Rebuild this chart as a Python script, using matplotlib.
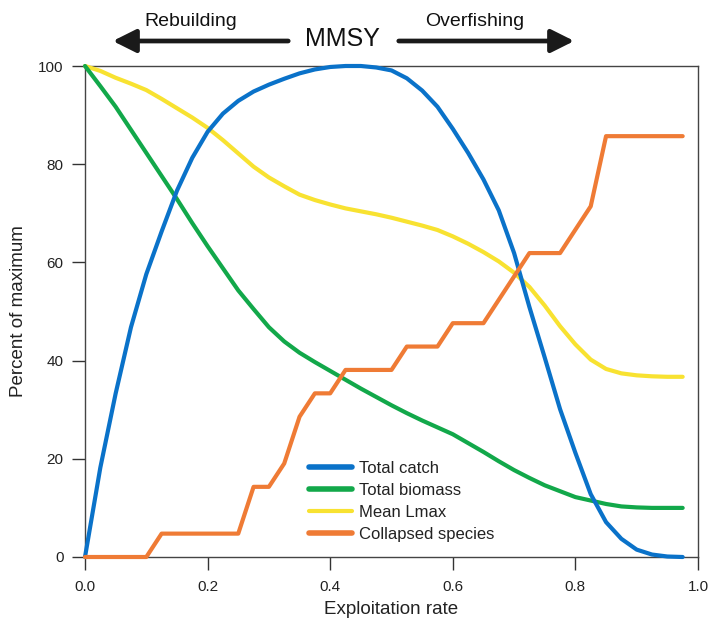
import matplotlib
matplotlib.use("Agg")
import matplotlib.pyplot as plt
from matplotlib.patches import FancyArrowPatch

plt.rcParams['font.family'] = ['Liberation Sans', 'DejaVu Sans']

exploitation = [0.0, 0.025, 0.05, 0.075, 0.1, 0.125, 0.15, 0.175, 0.2, 0.225,
                0.25, 0.275, 0.3, 0.325, 0.35, 0.375, 0.4, 0.425, 0.45, 0.475,
                0.5, 0.525, 0.55, 0.575, 0.6, 0.625, 0.65, 0.675, 0.7, 0.725,
                0.75, 0.775, 0.8, 0.825, 0.85, 0.875, 0.9, 0.925, 0.95, 0.975]

total_catch = [0, 18.2, 33.3, 46.8, 57.6, 66.3, 74.6, 81.3, 86.6, 90.3,
               92.9, 94.8, 96.2, 97.4, 98.5, 99.3, 99.8, 100, 100, 99.7,
               99.1, 97.5, 95.0, 91.7, 87.2, 82.3, 76.9, 70.6, 61.9, 50.9,
               40.6, 30.1, 21.2, 12.8, 7.1, 3.7, 1.5, 0.5, 0.1, 0]

total_biomass = [100, 95.9, 91.7, 87.0, 82.3, 77.6, 72.9, 68.0, 63.3, 58.8,
                 54.3, 50.5, 46.8, 43.9, 41.6, 39.7, 37.9, 36.1, 34.3, 32.6,
                 30.9, 29.3, 27.8, 26.4, 25.0, 23.2, 21.4, 19.5, 17.7, 16.1,
                 14.6, 13.4, 12.2, 11.5, 10.8, 10.3, 10.1, 10.0, 10.0, 10.0]

mean_lmax = [100, 99.0, 97.6, 96.4, 95.1, 93.3, 91.4, 89.5, 87.4, 84.9,
             82.2, 79.5, 77.3, 75.5, 73.8, 72.7, 71.8, 71.0, 70.4, 69.8,
             69.1, 68.3, 67.5, 66.6, 65.3, 63.8, 62.1, 60.2, 57.9, 55.0,
             51.2, 47.0, 43.3, 40.2, 38.3, 37.4, 37.0, 36.8, 36.7, 36.7]

collapsed_species = [0, 0, 0, 0, 0, 4.76, 4.76, 4.76, 4.76, 4.76,
                     4.76, 14.29, 14.29, 19.05, 28.57, 33.33, 33.33, 38.10, 38.10, 38.10,
                     38.10, 42.86, 42.86, 42.86, 47.62, 47.62, 47.62, 52.38, 57.14, 61.90,
                     61.90, 61.90, 66.67, 71.43, 85.71, 85.71, 85.71, 85.71, 85.71, 85.71]

series_names = ["Total catch", "Total biomass", "Mean Lmax", "Collapsed species"]
series_colors = ["#0a72c9", "#12a84a", "#f8e231", "#ef7b35"]

x_ticks = [0.0, 0.2, 0.4, 0.6, 0.8, 1.0]
x_tick_labels = ["0.0", "0.2", "0.4", "0.6", "0.8", "1.0"]
y_ticks = [0, 20, 40, 60, 80, 100]

fig = plt.figure(figsize=(7.09, 6.23), dpi=100)
ax = fig.add_axes([85/709, 1-557/623, (698-85)/709, (557-66)/623])

series = [total_catch, total_biomass, mean_lmax, collapsed_species]
zorders = [5, 4, 3, 6]
for vals, name, col, z in zip(series, series_names, series_colors, zorders):
    ax.plot(exploitation, vals, color=col, lw=3.0, label=name,
            solid_capstyle='round', solid_joinstyle='round', clip_on=False, zorder=z)

ax.set_xlim(0, 1.0)
ax.set_ylim(0, 100)
ax.set_xticks(x_ticks)
ax.set_xticklabels(x_tick_labels)
ax.set_yticks(y_ticks)
for sp in ax.spines.values():
    sp.set_color('#444444')
    sp.set_linewidth(1.0)
ax.tick_params(direction='out', length=9.5, width=1.0, color='#333333',
               labelsize=11, labelcolor='#222222')
ax.tick_params(axis='x', pad=7)
ax.tick_params(axis='y', pad=6)

ax.set_xlabel("Exploitation rate", fontsize=13.5, color='#222222', labelpad=5)
ax.set_ylabel("Percent of maximum", fontsize=13.5, color='#222222', labelpad=8)

leg = ax.legend(loc='upper left', bbox_to_anchor=((302-85)/613, (557-454)/491),
                frameon=False, fontsize=12, handlelength=2.6, handletextpad=0.4,
                labelspacing=0.42, borderaxespad=0)
for h, lw in zip(leg.get_lines(), [4.0, 4.0, 3.0, 4.0]):
    h.set_linewidth(lw)
for t in leg.get_texts():
    t.set_color('#222222')

# Header annotation
fig.text(342/709, 1-39/623, "MMSY", fontsize=18, ha='center', va='center', color='#111111')
fig.text(191/709, 1-21/623, "Rebuilding", fontsize=14, ha='center', va='center', color='#111111')
fig.text(475/709, 1-21/623, "Overfishing", fontsize=14, ha='center', va='center', color='#111111')

arrow_kw = dict(arrowstyle='-|>,head_length=1.0,head_width=0.5', color='#1a1a1a',
                lw=3.4, mutation_scale=14, transform=fig.transFigure)
fig.patches.append(FancyArrowPatch((291/709, 1-41/623), (110/709, 1-41/623), **arrow_kw))
fig.patches.append(FancyArrowPatch((396/709, 1-41/623), (577/709, 1-41/623), **arrow_kw))

fig.savefig("out.png", dpi=100)
